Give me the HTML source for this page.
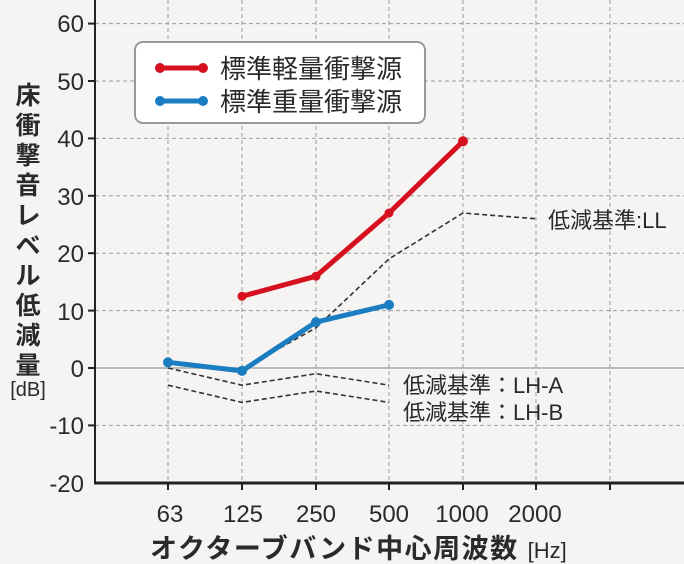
<!DOCTYPE html>
<html><head><meta charset="utf-8"><style>
html,body{margin:0;padding:0;background:#f5f4f2;}
svg{display:block;}
text{font-family:"Liberation Sans","Noto Sans CJK JP",sans-serif;fill:#2a2a2a;}
</style></head><body>
<svg width="684" height="564" viewBox="0 0 684 564" xmlns="http://www.w3.org/2000/svg">
<rect width="684" height="564" fill="#f5f4f2"/>
<g stroke="#9a9a9a" stroke-width="1" stroke-dasharray="4,3">
<line x1="95" y1="23.6" x2="684" y2="23.6"/>
<line x1="95" y1="81" x2="684" y2="81"/>
<line x1="95" y1="138.4" x2="684" y2="138.4"/>
<line x1="95" y1="195.8" x2="684" y2="195.8"/>
<line x1="95" y1="253.2" x2="684" y2="253.2"/>
<line x1="95" y1="310.6" x2="684" y2="310.6"/>
<line x1="95" y1="425.4" x2="684" y2="425.4"/>
<line x1="168" y1="0" x2="168" y2="483"/>
<line x1="242" y1="0" x2="242" y2="483"/>
<line x1="316" y1="0" x2="316" y2="483"/>
<line x1="389" y1="0" x2="389" y2="483"/>
<line x1="463" y1="0" x2="463" y2="483"/>
<line x1="536" y1="0" x2="536" y2="483"/>
<line x1="610" y1="0" x2="610" y2="483"/>
</g>
<line x1="95" y1="368" x2="684" y2="368" stroke="#aaa" stroke-width="1.5"/>
<line x1="95" y1="0" x2="95" y2="484" stroke="#222" stroke-width="2"/>
<line x1="94" y1="483" x2="684" y2="483" stroke="#222" stroke-width="3"/>
<g stroke="#222" stroke-width="2">
<line x1="168" y1="483" x2="168" y2="490"/><line x1="242" y1="483" x2="242" y2="490"/>
<line x1="316" y1="483" x2="316" y2="490"/><line x1="389" y1="483" x2="389" y2="490"/>
<line x1="463" y1="483" x2="463" y2="490"/><line x1="536" y1="483" x2="536" y2="490"/>
<line x1="610" y1="483" x2="610" y2="490"/>
<line x1="88" y1="23.6" x2="95" y2="23.6"/><line x1="88" y1="81" x2="95" y2="81"/>
<line x1="88" y1="138.4" x2="95" y2="138.4"/><line x1="88" y1="195.8" x2="95" y2="195.8"/>
<line x1="88" y1="253.2" x2="95" y2="253.2"/><line x1="88" y1="310.6" x2="95" y2="310.6"/>
<line x1="88" y1="368" x2="95" y2="368"/><line x1="88" y1="425.4" x2="95" y2="425.4"/>
</g>
<g font-size="24" text-anchor="end">
<text x="84" y="32">60</text><text x="84" y="90">50</text><text x="84" y="147">40</text>
<text x="84" y="205">30</text><text x="84" y="262">20</text><text x="84" y="320">10</text>
<text x="84" y="377">0</text><text x="84" y="434">-10</text><text x="84" y="492">-20</text>
</g>
<g font-size="24" text-anchor="middle">
<text x="170" y="522">63</text><text x="243" y="522">125</text><text x="316" y="522">250</text>
<text x="389" y="522">500</text><text x="462" y="522">1000</text><text x="535" y="522">2000</text>
</g>
<text x="150" y="558" font-size="27" font-weight="bold" letter-spacing="1.5">オクターブバンド中心周波数 <tspan font-size="22" font-weight="normal" letter-spacing="0">[Hz]</tspan></text>
<g font-size="25" font-weight="bold" text-anchor="middle">
<text x="28" y="104">床</text><text x="28" y="134">衝</text><text x="28" y="164">撃</text>
<text x="28" y="194">音</text><text x="28" y="224">レ</text><text x="28" y="254">ベ</text>
<text x="28" y="284">ル</text><text x="28" y="314">低</text><text x="28" y="344">減</text>
<text x="28" y="374">量</text>
</g>
<text x="28" y="396" font-size="20" text-anchor="middle">[dB]</text>
<g fill="none" stroke="#333" stroke-width="1.6" stroke-dasharray="5,3">
<polyline points="280,348 316,327.8 389,258.9 463,213 536,218.8"/>
<polyline points="168,368 242,385.2 316,373.7 389,385.2"/>
<polyline points="168,385.2 242,402.4 316,391 389,402.4"/>
</g>
<g font-size="22">
<text x="548" y="228">低減基準:LL</text>
<text x="403" y="393">低減基準：LH-A</text>
<text x="403" y="420">低減基準：LH-B</text>
</g>
<g stroke="#d7101f" stroke-width="5" fill="#d7101f">
<polyline fill="none" points="242,296.3 316,276.2 389,213 463,141.3"/>
<circle cx="242" cy="296.3" r="4.5" stroke="none"/><circle cx="316" cy="276.2" r="4.5" stroke="none"/>
<circle cx="389" cy="213" r="4.5" stroke="none"/><circle cx="463" cy="141.3" r="5" stroke="none"/>
</g>
<g stroke="#1a7cc1" stroke-width="5" fill="#1a7cc1">
<polyline fill="none" points="168,362.3 242,370.9 316,322.1 389,304.9"/>
<circle cx="168" cy="362.3" r="5" stroke="none"/><circle cx="242" cy="370.9" r="5" stroke="none"/>
<circle cx="316" cy="322.1" r="5" stroke="none"/><circle cx="389" cy="304.9" r="5" stroke="none"/>
</g>
<rect x="135" y="42" width="290" height="81" rx="8" fill="#fff" stroke="#999" stroke-width="2"/>
<line x1="160" y1="68" x2="203" y2="68" stroke="#d7101f" stroke-width="5"/>
<circle cx="160" cy="68" r="5" fill="#d7101f"/><circle cx="203" cy="68" r="5" fill="#d7101f"/>
<line x1="160" y1="101" x2="203" y2="101" stroke="#1a7cc1" stroke-width="5"/>
<circle cx="160" cy="101" r="5" fill="#1a7cc1"/><circle cx="203" cy="101" r="5" fill="#1a7cc1"/>
<text x="220" y="78" font-size="26">標準軽量衝撃源</text>
<text x="220" y="111" font-size="26">標準重量衝撃源</text>
</svg>
</body></html>
